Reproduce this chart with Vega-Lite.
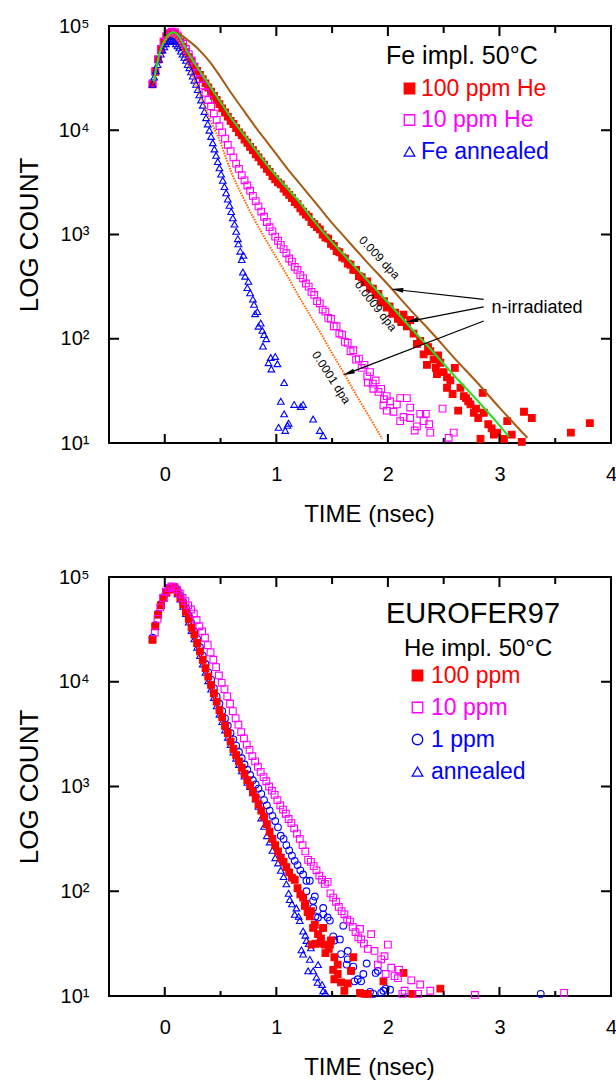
{
"$schema": "https://vega.github.io/schema/vega-lite/v6.json",
"padding": {"left": 15, "top": 15, "right": 0, "bottom": 0},
"background": "white",
"config": {
  "font": "Liberation Sans",
  "view": {"stroke": "#000000", "strokeWidth": 2},
  "axis": {"grid": false, "domain": false, "ticks": false, "tickSize": 0, "labelFont": "Liberation Sans", "labelFontSize": 20, "labelColor": "#000000", "titleFont": "Liberation Sans", "titleFontWeight": "normal", "titleColor": "#000000", "labelFlush": false, "labelOverlap": false, "labelBound": false},
  "legend": {"labelFont": "Liberation Sans", "titleFont": "Liberation Sans", "titleFontWeight": "normal", "titleColor": "#000000", "padding": 0},
  "text": {"font": "Liberation Sans"}
},
"datasets": {
  "tkx": [{"p":0,"lo":1,"hi":5},{"p":1,"lo":1,"hi":5},{"p":2,"lo":1,"hi":5},{"p":3,"lo":1,"hi":5}],
  "tkm": [{"p":0.5,"lo":1,"hi":5},{"p":1.5,"lo":1,"hi":5},{"p":2.5,"lo":1,"hi":5},{"p":3.5,"lo":1,"hi":5}],
  "tky": [{"p":2,"l":-0.5,"r":4},{"p":3,"l":-0.5,"r":4},{"p":4,"l":-0.5,"r":4}],
  "p1": [
    {"g":"100 ppm He","t":-0.11,"v":4.44},{"g":"100 ppm He","t":-0.085,"v":4.56},{"g":"100 ppm He","t":-0.06,"v":4.68},{"g":"100 ppm He","t":-0.035,"v":4.77},{"g":"100 ppm He","t":-0.01,"v":4.85},{"g":"100 ppm He","t":0.015,"v":4.90},{"g":"100 ppm He","t":0.04,"v":4.93},{"g":"100 ppm He","t":0.065,"v":4.94},{"g":"100 ppm He","t":0.09,"v":4.93},{"g":"100 ppm He","t":0.115,"v":4.90},
    {"g":"100 ppm He","t":0.14,"v":4.85},{"g":"100 ppm He","t":0.165,"v":4.80},{"g":"100 ppm He","t":0.19,"v":4.75},{"g":"100 ppm He","t":0.215,"v":4.70},{"g":"100 ppm He","t":0.24,"v":4.66},{"g":"100 ppm He","t":0.265,"v":4.61},{"g":"100 ppm He","t":0.29,"v":4.57},{"g":"100 ppm He","t":0.315,"v":4.53},{"g":"100 ppm He","t":0.34,"v":4.49},{"g":"100 ppm He","t":0.365,"v":4.45},
    {"g":"100 ppm He","t":0.39,"v":4.41},{"g":"100 ppm He","t":0.415,"v":4.37},{"g":"100 ppm He","t":0.44,"v":4.33},{"g":"100 ppm He","t":0.465,"v":4.29},{"g":"100 ppm He","t":0.49,"v":4.25},{"g":"100 ppm He","t":0.515,"v":4.21},{"g":"100 ppm He","t":0.54,"v":4.17},{"g":"100 ppm He","t":0.565,"v":4.13},{"g":"100 ppm He","t":0.59,"v":4.09},{"g":"100 ppm He","t":0.615,"v":4.06},
    {"g":"100 ppm He","t":0.64,"v":4.02},{"g":"100 ppm He","t":0.665,"v":3.98},{"g":"100 ppm He","t":0.69,"v":3.95},{"g":"100 ppm He","t":0.715,"v":3.91},{"g":"100 ppm He","t":0.74,"v":3.88},{"g":"100 ppm He","t":0.765,"v":3.84},{"g":"100 ppm He","t":0.79,"v":3.81},{"g":"100 ppm He","t":0.815,"v":3.77},{"g":"100 ppm He","t":0.84,"v":3.74},{"g":"100 ppm He","t":0.865,"v":3.70},
    {"g":"100 ppm He","t":0.89,"v":3.67},{"g":"100 ppm He","t":0.915,"v":3.63},{"g":"100 ppm He","t":0.94,"v":3.60},{"g":"100 ppm He","t":0.965,"v":3.56},{"g":"100 ppm He","t":0.99,"v":3.53},{"g":"100 ppm He","t":1.015,"v":3.50},{"g":"100 ppm He","t":1.04,"v":3.48},{"g":"100 ppm He","t":1.065,"v":3.44},{"g":"100 ppm He","t":1.09,"v":3.41},{"g":"100 ppm He","t":1.115,"v":3.38},
    {"g":"100 ppm He","t":1.14,"v":3.35},{"g":"100 ppm He","t":1.165,"v":3.31},{"g":"100 ppm He","t":1.19,"v":3.29},{"g":"100 ppm He","t":1.215,"v":3.25},{"g":"100 ppm He","t":1.24,"v":3.22},{"g":"100 ppm He","t":1.265,"v":3.19},{"g":"100 ppm He","t":1.29,"v":3.17},{"g":"100 ppm He","t":1.315,"v":3.12},{"g":"100 ppm He","t":1.34,"v":3.10},{"g":"100 ppm He","t":1.365,"v":3.07},
    {"g":"100 ppm He","t":1.39,"v":3.05},{"g":"100 ppm He","t":1.415,"v":3.00},{"g":"100 ppm He","t":1.44,"v":2.97},{"g":"100 ppm He","t":1.465,"v":2.96},{"g":"100 ppm He","t":1.49,"v":2.91},{"g":"100 ppm He","t":1.515,"v":2.89},{"g":"100 ppm He","t":1.54,"v":2.84},{"g":"100 ppm He","t":1.565,"v":2.83},{"g":"100 ppm He","t":1.59,"v":2.78},{"g":"100 ppm He","t":1.615,"v":2.77},
    {"g":"100 ppm He","t":1.64,"v":2.72},{"g":"100 ppm He","t":1.665,"v":2.71},{"g":"100 ppm He","t":1.69,"v":2.66},{"g":"100 ppm He","t":1.715,"v":2.66},{"g":"100 ppm He","t":1.74,"v":2.60},{"g":"100 ppm He","t":1.765,"v":2.59},{"g":"100 ppm He","t":1.79,"v":2.54},{"g":"100 ppm He","t":1.815,"v":2.55},{"g":"100 ppm He","t":1.84,"v":2.48},{"g":"100 ppm He","t":1.865,"v":2.48},
    {"g":"100 ppm He","t":1.89,"v":2.42},{"g":"100 ppm He","t":1.915,"v":2.43},{"g":"100 ppm He","t":1.94,"v":2.35},{"g":"100 ppm He","t":1.965,"v":2.36},{"g":"100 ppm He","t":1.99,"v":2.30},{"g":"100 ppm He","t":2.015,"v":2.31},{"g":"100 ppm He","t":2.04,"v":2.24},{"g":"100 ppm He","t":2.065,"v":2.25},{"g":"100 ppm He","t":2.09,"v":2.19},
    {"g":"100 ppm He","t":2.12,"v":2.16},{"g":"100 ppm He","t":2.14,"v":2.23},{"g":"100 ppm He","t":2.17,"v":2.12},{"g":"100 ppm He","t":2.20,"v":2.18},{"g":"100 ppm He","t":2.23,"v":2.05},{"g":"100 ppm He","t":2.26,"v":1.95},{"g":"100 ppm He","t":2.29,"v":1.98},{"g":"100 ppm He","t":2.32,"v":1.85},{"g":"100 ppm He","t":2.35,"v":1.75},{"g":"100 ppm He","t":2.36,"v":1.92},
    {"g":"100 ppm He","t":2.38,"v":1.88},{"g":"100 ppm He","t":2.41,"v":1.80},{"g":"100 ppm He","t":2.43,"v":1.72},{"g":"100 ppm He","t":2.44,"v":1.66},{"g":"100 ppm He","t":2.45,"v":1.84},{"g":"100 ppm He","t":2.47,"v":1.77},{"g":"100 ppm He","t":2.50,"v":1.68},{"g":"100 ppm He","t":2.53,"v":1.63},{"g":"100 ppm He","t":2.53,"v":1.53},{"g":"100 ppm He","t":2.56,"v":1.60},
    {"g":"100 ppm He","t":2.58,"v":1.47},{"g":"100 ppm He","t":2.60,"v":1.72},{"g":"100 ppm He","t":2.63,"v":1.31},{"g":"100 ppm He","t":2.65,"v":1.53},{"g":"100 ppm He","t":2.68,"v":1.45},{"g":"100 ppm He","t":2.70,"v":1.43},{"g":"100 ppm He","t":2.72,"v":1.40},{"g":"100 ppm He","t":2.74,"v":1.37},{"g":"100 ppm He","t":2.77,"v":1.29},{"g":"100 ppm He","t":2.79,"v":1.33},
    {"g":"100 ppm He","t":2.81,"v":1.24},{"g":"100 ppm He","t":2.83,"v":1.04},{"g":"100 ppm He","t":2.85,"v":1.48},{"g":"100 ppm He","t":2.86,"v":1.29},{"g":"100 ppm He","t":2.90,"v":1.18},{"g":"100 ppm He","t":2.93,"v":1.14},{"g":"100 ppm He","t":2.95,"v":1.08},{"g":"100 ppm He","t":2.98,"v":1.10},{"g":"100 ppm He","t":3.04,"v":1.04},{"g":"100 ppm He","t":3.07,"v":1.21},
    {"g":"100 ppm He","t":3.11,"v":1.08},{"g":"100 ppm He","t":3.20,"v":1.01},{"g":"100 ppm He","t":3.22,"v":1.30},{"g":"100 ppm He","t":3.29,"v":1.24},{"g":"100 ppm He","t":3.64,"v":1.10},{"g":"100 ppm He","t":3.81,"v":1.19},

    {"g":"10 ppm He","t":-0.11,"v":4.45},{"g":"10 ppm He","t":-0.085,"v":4.57},{"g":"10 ppm He","t":-0.06,"v":4.68},{"g":"10 ppm He","t":-0.035,"v":4.78},{"g":"10 ppm He","t":-0.01,"v":4.85},{"g":"10 ppm He","t":0.015,"v":4.90},{"g":"10 ppm He","t":0.04,"v":4.93},{"g":"10 ppm He","t":0.065,"v":4.945},{"g":"10 ppm He","t":0.09,"v":4.94},{"g":"10 ppm He","t":0.115,"v":4.91},
    {"g":"10 ppm He","t":0.14,"v":4.87},{"g":"10 ppm He","t":0.165,"v":4.83},{"g":"10 ppm He","t":0.19,"v":4.78},{"g":"10 ppm He","t":0.215,"v":4.73},{"g":"10 ppm He","t":0.24,"v":4.67},{"g":"10 ppm He","t":0.265,"v":4.61},{"g":"10 ppm He","t":0.29,"v":4.55},{"g":"10 ppm He","t":0.315,"v":4.49},{"g":"10 ppm He","t":0.34,"v":4.43},{"g":"10 ppm He","t":0.365,"v":4.36},
    {"g":"10 ppm He","t":0.39,"v":4.29},{"g":"10 ppm He","t":0.415,"v":4.23},{"g":"10 ppm He","t":0.44,"v":4.16},{"g":"10 ppm He","t":0.465,"v":4.10},{"g":"10 ppm He","t":0.49,"v":4.04},{"g":"10 ppm He","t":0.515,"v":3.98},{"g":"10 ppm He","t":0.54,"v":3.92},{"g":"10 ppm He","t":0.565,"v":3.86},{"g":"10 ppm He","t":0.59,"v":3.80},{"g":"10 ppm He","t":0.615,"v":3.74},
    {"g":"10 ppm He","t":0.64,"v":3.68},{"g":"10 ppm He","t":0.665,"v":3.63},{"g":"10 ppm He","t":0.69,"v":3.57},{"g":"10 ppm He","t":0.715,"v":3.52},{"g":"10 ppm He","t":0.74,"v":3.47},{"g":"10 ppm He","t":0.765,"v":3.42},{"g":"10 ppm He","t":0.79,"v":3.37},{"g":"10 ppm He","t":0.815,"v":3.32},{"g":"10 ppm He","t":0.84,"v":3.27},{"g":"10 ppm He","t":0.865,"v":3.22},
    {"g":"10 ppm He","t":0.89,"v":3.17},{"g":"10 ppm He","t":0.915,"v":3.12},{"g":"10 ppm He","t":0.94,"v":3.07},{"g":"10 ppm He","t":0.965,"v":3.03},{"g":"10 ppm He","t":0.99,"v":2.98},{"g":"10 ppm He","t":1.015,"v":2.94},{"g":"10 ppm He","t":1.04,"v":2.90},{"g":"10 ppm He","t":1.065,"v":2.86},{"g":"10 ppm He","t":1.09,"v":2.82},{"g":"10 ppm He","t":1.115,"v":2.77},
    {"g":"10 ppm He","t":1.14,"v":2.74},{"g":"10 ppm He","t":1.165,"v":2.69},{"g":"10 ppm He","t":1.19,"v":2.66},{"g":"10 ppm He","t":1.215,"v":2.61},{"g":"10 ppm He","t":1.24,"v":2.58},{"g":"10 ppm He","t":1.265,"v":2.53},{"g":"10 ppm He","t":1.29,"v":2.50},{"g":"10 ppm He","t":1.315,"v":2.45},{"g":"10 ppm He","t":1.34,"v":2.42},{"g":"10 ppm He","t":1.365,"v":2.36},
    {"g":"10 ppm He","t":1.39,"v":2.34},{"g":"10 ppm He","t":1.415,"v":2.28},{"g":"10 ppm He","t":1.44,"v":2.26},{"g":"10 ppm He","t":1.465,"v":2.20},{"g":"10 ppm He","t":1.49,"v":2.19},{"g":"10 ppm He","t":1.515,"v":2.12},{"g":"10 ppm He","t":1.54,"v":2.12},{"g":"10 ppm He","t":1.565,"v":2.05},{"g":"10 ppm He","t":1.59,"v":2.04},{"g":"10 ppm He","t":1.615,"v":1.97},
    {"g":"10 ppm He","t":1.64,"v":1.96},{"g":"10 ppm He","t":1.665,"v":1.88},{"g":"10 ppm He","t":1.69,"v":1.89},{"g":"10 ppm He","t":1.715,"v":1.80},{"g":"10 ppm He","t":1.74,"v":1.81},{"g":"10 ppm He","t":1.765,"v":1.72},{"g":"10 ppm He","t":1.79,"v":1.75},{"g":"10 ppm He","t":1.815,"v":1.64},{"g":"10 ppm He","t":1.84,"v":1.68},{"g":"10 ppm He","t":1.865,"v":1.57},
    {"g":"10 ppm He","t":1.89,"v":1.60},{"g":"10 ppm He","t":1.915,"v":1.49},{"g":"10 ppm He","t":1.94,"v":1.52},{"g":"10 ppm He","t":1.965,"v":1.42},{"g":"10 ppm He","t":1.99,"v":1.45},{"g":"10 ppm He","t":1.99,"v":1.31},{"g":"10 ppm He","t":2.02,"v":1.40},{"g":"10 ppm He","t":2.05,"v":1.30},{"g":"10 ppm He","t":2.08,"v":1.37},{"g":"10 ppm He","t":2.11,"v":1.21},
    {"g":"10 ppm He","t":2.11,"v":1.43},{"g":"10 ppm He","t":2.14,"v":1.25},{"g":"10 ppm He","t":2.17,"v":1.43},{"g":"10 ppm He","t":2.20,"v":1.24},{"g":"10 ppm He","t":2.20,"v":1.34},{"g":"10 ppm He","t":2.24,"v":1.12},{"g":"10 ppm He","t":2.26,"v":1.16},{"g":"10 ppm He","t":2.29,"v":1.28},{"g":"10 ppm He","t":2.32,"v":1.21},{"g":"10 ppm He","t":2.34,"v":1.28},
    {"g":"10 ppm He","t":2.37,"v":1.18},{"g":"10 ppm He","t":2.38,"v":1.10},{"g":"10 ppm He","t":2.49,"v":1.33},{"g":"10 ppm He","t":2.545,"v":1.05},{"g":"10 ppm He","t":2.59,"v":1.10},{"g":"10 ppm He","t":1.87,"v":1.52},{"g":"10 ppm He","t":1.82,"v":1.58},{"g":"10 ppm He","t":1.96,"v":1.36},

    {"g":"Fe annealed","t":-0.11,"v":4.44},{"g":"Fe annealed","t":-0.095,"v":4.51},{"g":"Fe annealed","t":-0.08,"v":4.57},{"g":"Fe annealed","t":-0.065,"v":4.63},{"g":"Fe annealed","t":-0.05,"v":4.68},{"g":"Fe annealed","t":-0.035,"v":4.73},{"g":"Fe annealed","t":-0.02,"v":4.77},{"g":"Fe annealed","t":-0.005,"v":4.80},{"g":"Fe annealed","t":0.01,"v":4.83},{"g":"Fe annealed","t":0.025,"v":4.85},
    {"g":"Fe annealed","t":0.04,"v":4.86},{"g":"Fe annealed","t":0.055,"v":4.865},{"g":"Fe annealed","t":0.07,"v":4.86},{"g":"Fe annealed","t":0.085,"v":4.85},{"g":"Fe annealed","t":0.10,"v":4.83},{"g":"Fe annealed","t":0.115,"v":4.81},{"g":"Fe annealed","t":0.13,"v":4.79},{"g":"Fe annealed","t":0.145,"v":4.76},{"g":"Fe annealed","t":0.16,"v":4.73},{"g":"Fe annealed","t":0.175,"v":4.70},
    {"g":"Fe annealed","t":0.19,"v":4.67},{"g":"Fe annealed","t":0.205,"v":4.63},{"g":"Fe annealed","t":0.22,"v":4.60},{"g":"Fe annealed","t":0.235,"v":4.56},{"g":"Fe annealed","t":0.25,"v":4.52},{"g":"Fe annealed","t":0.265,"v":4.48},{"g":"Fe annealed","t":0.28,"v":4.44},{"g":"Fe annealed","t":0.295,"v":4.39},{"g":"Fe annealed","t":0.31,"v":4.34},{"g":"Fe annealed","t":0.325,"v":4.29},
    {"g":"Fe annealed","t":0.34,"v":4.24},{"g":"Fe annealed","t":0.355,"v":4.18},{"g":"Fe annealed","t":0.37,"v":4.12},{"g":"Fe annealed","t":0.385,"v":4.06},{"g":"Fe annealed","t":0.40,"v":4.00},{"g":"Fe annealed","t":0.415,"v":3.94},{"g":"Fe annealed","t":0.43,"v":3.88},{"g":"Fe annealed","t":0.445,"v":3.82},{"g":"Fe annealed","t":0.46,"v":3.76},{"g":"Fe annealed","t":0.475,"v":3.70},
    {"g":"Fe annealed","t":0.49,"v":3.64},{"g":"Fe annealed","t":0.505,"v":3.58},{"g":"Fe annealed","t":0.52,"v":3.52},{"g":"Fe annealed","t":0.535,"v":3.46},{"g":"Fe annealed","t":0.55,"v":3.40},{"g":"Fe annealed","t":0.565,"v":3.34},{"g":"Fe annealed","t":0.58,"v":3.28},{"g":"Fe annealed","t":0.595,"v":3.22},{"g":"Fe annealed","t":0.61,"v":3.16},{"g":"Fe annealed","t":0.625,"v":3.10},
    {"g":"Fe annealed","t":0.64,"v":3.03},{"g":"Fe annealed","t":0.655,"v":2.96},{"g":"Fe annealed","t":0.66,"v":2.91},{"g":"Fe annealed","t":0.677,"v":2.84},{"g":"Fe annealed","t":0.69,"v":2.76},{"g":"Fe annealed","t":0.70,"v":2.64},{"g":"Fe annealed","t":0.705,"v":2.80},{"g":"Fe annealed","t":0.72,"v":2.60},{"g":"Fe annealed","t":0.74,"v":2.49},{"g":"Fe annealed","t":0.75,"v":2.55},
    {"g":"Fe annealed","t":0.765,"v":2.44},{"g":"Fe annealed","t":0.79,"v":2.38},{"g":"Fe annealed","t":0.80,"v":2.33},{"g":"Fe annealed","t":0.81,"v":2.24},{"g":"Fe annealed","t":0.83,"v":2.26},{"g":"Fe annealed","t":0.84,"v":2.12},{"g":"Fe annealed","t":0.86,"v":2.15},{"g":"Fe annealed","t":0.875,"v":2.08},{"g":"Fe annealed","t":0.88,"v":1.93},{"g":"Fe annealed","t":0.89,"v":2.04},
    {"g":"Fe annealed","t":0.91,"v":2.00},{"g":"Fe annealed","t":0.93,"v":1.77},{"g":"Fe annealed","t":0.95,"v":1.82},{"g":"Fe annealed","t":0.955,"v":1.71},{"g":"Fe annealed","t":0.99,"v":1.83},{"g":"Fe annealed","t":1.01,"v":1.76},{"g":"Fe annealed","t":1.07,"v":1.58},{"g":"Fe annealed","t":1.04,"v":1.40},{"g":"Fe annealed","t":1.16,"v":1.37},{"g":"Fe annealed","t":1.22,"v":1.35},
    {"g":"Fe annealed","t":1.24,"v":1.37},{"g":"Fe annealed","t":1.07,"v":1.28},{"g":"Fe annealed","t":1.02,"v":1.15},{"g":"Fe annealed","t":1.11,"v":1.19},{"g":"Fe annealed","t":1.08,"v":1.12},{"g":"Fe annealed","t":1.10,"v":1.17},{"g":"Fe annealed","t":1.33,"v":1.23},{"g":"Fe annealed","t":1.39,"v":1.12},{"g":"Fe annealed","t":1.42,"v":1.07}
  ],
  "l1": [
    {"c":"b","t":-0.1,"v":4.45},{"c":"b","t":-0.05,"v":4.72},{"c":"b","t":0.0,"v":4.87},{"c":"b","t":0.05,"v":4.93},{"c":"b","t":0.1,"v":4.93},{"c":"b","t":0.15,"v":4.91},{"c":"b","t":0.2,"v":4.87},{"c":"b","t":0.3,"v":4.78},{"c":"b","t":0.4,"v":4.66},{"c":"b","t":0.5,"v":4.51},{"c":"b","t":0.6,"v":4.35},{"c":"b","t":0.7,"v":4.20},{"c":"b","t":0.8,"v":4.05},{"c":"b","t":0.9,"v":3.91},{"c":"b","t":1.0,"v":3.77},{"c":"b","t":1.1,"v":3.63},{"c":"b","t":1.2,"v":3.50},{"c":"b","t":1.3,"v":3.37},{"c":"b","t":1.4,"v":3.24},{"c":"b","t":1.5,"v":3.11},{"c":"b","t":1.6,"v":2.99},{"c":"b","t":1.8,"v":2.75},{"c":"b","t":2.0,"v":2.52},{"c":"b","t":2.2,"v":2.28},{"c":"b","t":2.4,"v":2.05},{"c":"b","t":2.6,"v":1.81},{"c":"b","t":2.8,"v":1.58},{"c":"b","t":3.0,"v":1.34},{"c":"b","t":3.25,"v":1.05},
    {"c":"g","t":-0.1,"v":4.47},{"c":"g","t":-0.05,"v":4.73},{"c":"g","t":0.0,"v":4.86},{"c":"g","t":0.05,"v":4.93},{"c":"g","t":0.08,"v":4.94},{"c":"g","t":0.12,"v":4.91},{"c":"g","t":0.16,"v":4.84},{"c":"g","t":0.2,"v":4.76},{"c":"g","t":0.25,"v":4.67},{"c":"g","t":0.3,"v":4.59},{"c":"g","t":0.35,"v":4.51},{"c":"g","t":0.4,"v":4.43},{"c":"g","t":0.45,"v":4.35},{"c":"g","t":0.5,"v":4.27},{"c":"g","t":0.55,"v":4.19},{"c":"g","t":0.6,"v":4.11},{"c":"g","t":0.7,"v":3.97},{"c":"g","t":0.8,"v":3.83},{"c":"g","t":0.9,"v":3.69},{"c":"g","t":1.0,"v":3.56},{"c":"g","t":1.1,"v":3.44},{"c":"g","t":1.2,"v":3.32},{"c":"g","t":1.3,"v":3.18},{"c":"g","t":1.4,"v":3.05},{"c":"g","t":1.6,"v":2.81},{"c":"g","t":1.8,"v":2.58},{"c":"g","t":2.0,"v":2.35},{"c":"g","t":2.2,"v":2.11},{"c":"g","t":2.4,"v":1.88},{"c":"g","t":2.6,"v":1.64},{"c":"g","t":2.8,"v":1.41},{"c":"g","t":3.0,"v":1.17},{"c":"g","t":3.085,"v":1.06},
    {"c":"o","t":0.0,"v":4.84},{"c":"o","t":0.05,"v":4.91},{"c":"o","t":0.1,"v":4.89},{"c":"o","t":0.15,"v":4.79},{"c":"o","t":0.2,"v":4.66},{"c":"o","t":0.25,"v":4.52},{"c":"o","t":0.3,"v":4.38},{"c":"o","t":0.35,"v":4.25},{"c":"o","t":0.4,"v":4.12},{"c":"o","t":0.45,"v":4.00},{"c":"o","t":0.5,"v":3.88},{"c":"o","t":0.55,"v":3.73},{"c":"o","t":0.6,"v":3.59},{"c":"o","t":0.65,"v":3.47},{"c":"o","t":0.7,"v":3.36},{"c":"o","t":0.75,"v":3.25},{"c":"o","t":0.8,"v":3.15},{"c":"o","t":0.9,"v":2.96},{"c":"o","t":1.0,"v":2.78},{"c":"o","t":1.1,"v":2.60},{"c":"o","t":1.2,"v":2.41},{"c":"o","t":1.3,"v":2.23},{"c":"o","t":1.4,"v":2.05},{"c":"o","t":1.5,"v":1.86},{"c":"o","t":1.6,"v":1.68},{"c":"o","t":1.7,"v":1.49},{"c":"o","t":1.8,"v":1.31},{"c":"o","t":1.9,"v":1.13},{"c":"o","t":1.948,"v":1.04}
  ],
  "arr": [
    {"id":1,"x0":2.859,"y0":2.378,"x1":2.083,"y1":2.470},
    {"id":2,"x0":2.859,"y0":2.305,"x1":2.216,"y1":2.172},
    {"id":3,"x0":2.859,"y0":2.170,"x1":1.646,"y1":1.670}
  ],
  "dpa": [
    {"id":1,"t":1.924,"v":2.779,"txt":"0.009 dpa"},
    {"id":2,"t":1.892,"v":2.314,"txt":"0.0009 dpa"},
    {"id":3,"t":1.493,"v":1.628,"txt":"0.0001 dpa"}
  ],
  "note": [{"t":2.928,"v":2.295,"txt":"n-irradiated"}],
  "sub": [{"t":2.144,"v":4.246,"txt":"He impl. 50°C"}],
  "p2": [
    {"g":"annealed","t":-0.11,"v":4.41},{"g":"annealed","t":-0.085,"v":4.53},{"g":"annealed","t":-0.06,"v":4.64},{"g":"annealed","t":-0.035,"v":4.73},{"g":"annealed","t":-0.01,"v":4.80},{"g":"annealed","t":0.015,"v":4.85},{"g":"annealed","t":0.04,"v":4.88},{"g":"annealed","t":0.065,"v":4.895},{"g":"annealed","t":0.09,"v":4.88},{"g":"annealed","t":0.115,"v":4.84},
    {"g":"annealed","t":0.14,"v":4.79},{"g":"annealed","t":0.165,"v":4.72},{"g":"annealed","t":0.19,"v":4.65},{"g":"annealed","t":0.215,"v":4.57},{"g":"annealed","t":0.24,"v":4.49},{"g":"annealed","t":0.265,"v":4.41},{"g":"annealed","t":0.29,"v":4.33},{"g":"annealed","t":0.315,"v":4.25},{"g":"annealed","t":0.34,"v":4.17},{"g":"annealed","t":0.365,"v":4.09},
    {"g":"annealed","t":0.39,"v":4.01},{"g":"annealed","t":0.415,"v":3.93},{"g":"annealed","t":0.44,"v":3.85},{"g":"annealed","t":0.465,"v":3.77},{"g":"annealed","t":0.49,"v":3.69},{"g":"annealed","t":0.515,"v":3.62},{"g":"annealed","t":0.54,"v":3.54},{"g":"annealed","t":0.565,"v":3.47},{"g":"annealed","t":0.59,"v":3.40},{"g":"annealed","t":0.615,"v":3.33},
    {"g":"annealed","t":0.64,"v":3.27},{"g":"annealed","t":0.665,"v":3.21},{"g":"annealed","t":0.69,"v":3.15},{"g":"annealed","t":0.715,"v":3.10},{"g":"annealed","t":0.74,"v":3.04},{"g":"annealed","t":0.765,"v":3.00},{"g":"annealed","t":0.79,"v":2.94},{"g":"annealed","t":0.815,"v":2.88},{"g":"annealed","t":0.84,"v":2.81},{"g":"annealed","t":0.865,"v":2.70},
    {"g":"annealed","t":0.89,"v":2.62},{"g":"annealed","t":0.915,"v":2.53},{"g":"annealed","t":0.94,"v":2.47},{"g":"annealed","t":0.965,"v":2.39},{"g":"annealed","t":0.99,"v":2.32},{"g":"annealed","t":1.015,"v":2.27},{"g":"annealed","t":1.04,"v":2.20},{"g":"annealed","t":1.065,"v":2.14},{"g":"annealed","t":1.09,"v":2.07},{"g":"annealed","t":1.11,"v":1.98},
    {"g":"annealed","t":1.12,"v":1.92},{"g":"annealed","t":1.14,"v":1.88},{"g":"annealed","t":1.18,"v":1.84},{"g":"annealed","t":1.165,"v":1.78},{"g":"annealed","t":1.21,"v":1.72},{"g":"annealed","t":1.20,"v":1.76},{"g":"annealed","t":1.24,"v":1.62},{"g":"annealed","t":1.27,"v":1.53},{"g":"annealed","t":1.31,"v":1.46},{"g":"annealed","t":1.24,"v":1.40},
    {"g":"annealed","t":1.225,"v":1.44},{"g":"annealed","t":1.374,"v":1.30},{"g":"annealed","t":1.285,"v":1.24},{"g":"annealed","t":1.33,"v":1.24},{"g":"annealed","t":1.37,"v":1.13},{"g":"annealed","t":1.36,"v":1.18},{"g":"annealed","t":1.41,"v":1.11},{"g":"annealed","t":1.42,"v":1.05},{"g":"annealed","t":1.44,"v":1.03},{"g":"annealed","t":1.26,"v":1.58},{"g":"annealed","t":1.29,"v":1.50},{"g":"annealed","t":1.30,"v":1.35},

    {"g":"1 ppm","t":-0.11,"v":4.42},{"g":"1 ppm","t":-0.085,"v":4.54},{"g":"1 ppm","t":-0.06,"v":4.65},{"g":"1 ppm","t":-0.035,"v":4.74},{"g":"1 ppm","t":-0.01,"v":4.81},{"g":"1 ppm","t":0.015,"v":4.86},{"g":"1 ppm","t":0.04,"v":4.89},{"g":"1 ppm","t":0.065,"v":4.905},{"g":"1 ppm","t":0.09,"v":4.90},{"g":"1 ppm","t":0.115,"v":4.87},
    {"g":"1 ppm","t":0.14,"v":4.82},{"g":"1 ppm","t":0.165,"v":4.76},{"g":"1 ppm","t":0.19,"v":4.70},{"g":"1 ppm","t":0.215,"v":4.63},{"g":"1 ppm","t":0.24,"v":4.56},{"g":"1 ppm","t":0.265,"v":4.48},{"g":"1 ppm","t":0.29,"v":4.41},{"g":"1 ppm","t":0.315,"v":4.33},{"g":"1 ppm","t":0.34,"v":4.25},{"g":"1 ppm","t":0.365,"v":4.17},
    {"g":"1 ppm","t":0.39,"v":4.09},{"g":"1 ppm","t":0.415,"v":4.02},{"g":"1 ppm","t":0.44,"v":3.94},{"g":"1 ppm","t":0.465,"v":3.86},{"g":"1 ppm","t":0.49,"v":3.79},{"g":"1 ppm","t":0.515,"v":3.72},{"g":"1 ppm","t":0.54,"v":3.65},{"g":"1 ppm","t":0.565,"v":3.58},{"g":"1 ppm","t":0.59,"v":3.51},{"g":"1 ppm","t":0.615,"v":3.45},
    {"g":"1 ppm","t":0.64,"v":3.39},{"g":"1 ppm","t":0.665,"v":3.33},{"g":"1 ppm","t":0.69,"v":3.27},{"g":"1 ppm","t":0.715,"v":3.21},{"g":"1 ppm","t":0.74,"v":3.16},{"g":"1 ppm","t":0.765,"v":3.11},{"g":"1 ppm","t":0.79,"v":3.06},{"g":"1 ppm","t":0.815,"v":3.02},{"g":"1 ppm","t":0.84,"v":2.98},{"g":"1 ppm","t":0.865,"v":2.93},
    {"g":"1 ppm","t":0.89,"v":2.87},{"g":"1 ppm","t":0.915,"v":2.82},{"g":"1 ppm","t":0.94,"v":2.77},{"g":"1 ppm","t":0.965,"v":2.72},{"g":"1 ppm","t":0.99,"v":2.67},{"g":"1 ppm","t":1.015,"v":2.61},{"g":"1 ppm","t":1.04,"v":2.53},{"g":"1 ppm","t":1.065,"v":2.50},{"g":"1 ppm","t":1.09,"v":2.44},{"g":"1 ppm","t":1.115,"v":2.39},
    {"g":"1 ppm","t":1.14,"v":2.34},{"g":"1 ppm","t":1.165,"v":2.29},{"g":"1 ppm","t":1.19,"v":2.25},{"g":"1 ppm","t":1.215,"v":2.20},{"g":"1 ppm","t":1.24,"v":2.16},{"g":"1 ppm","t":1.27,"v":2.10},{"g":"1 ppm","t":1.30,"v":2.10},{"g":"1 ppm","t":1.27,"v":2.00},{"g":"1 ppm","t":1.33,"v":1.91},{"g":"1 ppm","t":1.345,"v":1.95},
    {"g":"1 ppm","t":1.33,"v":1.84},{"g":"1 ppm","t":1.35,"v":1.76},{"g":"1 ppm","t":1.42,"v":1.84},{"g":"1 ppm","t":1.374,"v":1.75},{"g":"1 ppm","t":1.42,"v":1.78},{"g":"1 ppm","t":1.46,"v":1.75},{"g":"1 ppm","t":1.42,"v":1.65},{"g":"1 ppm","t":1.48,"v":1.72},{"g":"1 ppm","t":1.51,"v":1.57},{"g":"1 ppm","t":1.52,"v":1.53},
    {"g":"1 ppm","t":1.57,"v":1.54},{"g":"1 ppm","t":1.60,"v":1.67},{"g":"1 ppm","t":1.58,"v":1.40},{"g":"1 ppm","t":1.64,"v":1.43},{"g":"1 ppm","t":1.64,"v":1.35},{"g":"1 ppm","t":1.63,"v":1.30},{"g":"1 ppm","t":1.67,"v":1.24},{"g":"1 ppm","t":1.69,"v":1.28},{"g":"1 ppm","t":1.70,"v":1.14},{"g":"1 ppm","t":1.73,"v":1.16},
    {"g":"1 ppm","t":1.76,"v":1.14},{"g":"1 ppm","t":1.81,"v":1.31},{"g":"1 ppm","t":1.78,"v":1.21},{"g":"1 ppm","t":1.91,"v":1.24},{"g":"1 ppm","t":1.89,"v":1.22},{"g":"1 ppm","t":1.87,"v":1.02},{"g":"1 ppm","t":1.84,"v":1.04},{"g":"1 ppm","t":1.94,"v":1.03},{"g":"1 ppm","t":1.96,"v":1.05},{"g":"1 ppm","t":2.02,"v":1.06},
    {"g":"1 ppm","t":1.98,"v":1.07},{"g":"1 ppm","t":3.37,"v":1.02},

    {"g":"100 ppm","t":-0.11,"v":4.40},{"g":"100 ppm","t":-0.085,"v":4.53},{"g":"100 ppm","t":-0.06,"v":4.64},{"g":"100 ppm","t":-0.035,"v":4.73},{"g":"100 ppm","t":-0.01,"v":4.80},{"g":"100 ppm","t":0.015,"v":4.85},{"g":"100 ppm","t":0.04,"v":4.88},{"g":"100 ppm","t":0.065,"v":4.90},{"g":"100 ppm","t":0.09,"v":4.89},{"g":"100 ppm","t":0.115,"v":4.85},
    {"g":"100 ppm","t":0.14,"v":4.80},{"g":"100 ppm","t":0.165,"v":4.74},{"g":"100 ppm","t":0.19,"v":4.67},{"g":"100 ppm","t":0.215,"v":4.60},{"g":"100 ppm","t":0.24,"v":4.52},{"g":"100 ppm","t":0.265,"v":4.45},{"g":"100 ppm","t":0.29,"v":4.37},{"g":"100 ppm","t":0.315,"v":4.29},{"g":"100 ppm","t":0.34,"v":4.21},{"g":"100 ppm","t":0.365,"v":4.13},
    {"g":"100 ppm","t":0.39,"v":4.05},{"g":"100 ppm","t":0.415,"v":3.97},{"g":"100 ppm","t":0.44,"v":3.89},{"g":"100 ppm","t":0.465,"v":3.81},{"g":"100 ppm","t":0.49,"v":3.73},{"g":"100 ppm","t":0.515,"v":3.66},{"g":"100 ppm","t":0.54,"v":3.58},{"g":"100 ppm","t":0.565,"v":3.51},{"g":"100 ppm","t":0.59,"v":3.43},{"g":"100 ppm","t":0.615,"v":3.36},
    {"g":"100 ppm","t":0.64,"v":3.30},{"g":"100 ppm","t":0.665,"v":3.24},{"g":"100 ppm","t":0.69,"v":3.18},{"g":"100 ppm","t":0.715,"v":3.12},{"g":"100 ppm","t":0.74,"v":3.06},{"g":"100 ppm","t":0.765,"v":3.01},{"g":"100 ppm","t":0.79,"v":2.95},{"g":"100 ppm","t":0.815,"v":2.89},{"g":"100 ppm","t":0.84,"v":2.83},{"g":"100 ppm","t":0.865,"v":2.77},
    {"g":"100 ppm","t":0.89,"v":2.71},{"g":"100 ppm","t":0.915,"v":2.64},{"g":"100 ppm","t":0.94,"v":2.57},{"g":"100 ppm","t":0.965,"v":2.50},{"g":"100 ppm","t":0.99,"v":2.44},{"g":"100 ppm","t":1.015,"v":2.38},{"g":"100 ppm","t":1.04,"v":2.32},{"g":"100 ppm","t":1.065,"v":2.28},{"g":"100 ppm","t":1.09,"v":2.23},{"g":"100 ppm","t":1.115,"v":2.18},
    {"g":"100 ppm","t":1.14,"v":2.13},{"g":"100 ppm","t":1.165,"v":2.11},{"g":"100 ppm","t":1.19,"v":2.03},{"g":"100 ppm","t":1.215,"v":1.97},{"g":"100 ppm","t":1.24,"v":1.94},{"g":"100 ppm","t":1.255,"v":1.86},{"g":"100 ppm","t":1.26,"v":1.88},{"g":"100 ppm","t":1.28,"v":1.80},{"g":"100 ppm","t":1.30,"v":1.76},{"g":"100 ppm","t":1.31,"v":1.81},
    {"g":"100 ppm","t":1.345,"v":1.68},{"g":"100 ppm","t":1.33,"v":1.65},{"g":"100 ppm","t":1.35,"v":1.50},{"g":"100 ppm","t":1.374,"v":1.59},{"g":"100 ppm","t":1.39,"v":1.50},{"g":"100 ppm","t":1.40,"v":1.55},{"g":"100 ppm","t":1.42,"v":1.65},{"g":"100 ppm","t":1.435,"v":1.49},{"g":"100 ppm","t":1.44,"v":1.41},{"g":"100 ppm","t":1.47,"v":1.45},
    {"g":"100 ppm","t":1.48,"v":1.49},{"g":"100 ppm","t":1.49,"v":1.53},{"g":"100 ppm","t":1.315,"v":1.49},{"g":"100 ppm","t":1.52,"v":1.37},{"g":"100 ppm","t":1.51,"v":1.25},{"g":"100 ppm","t":1.55,"v":1.30},{"g":"100 ppm","t":1.55,"v":1.21},{"g":"100 ppm","t":1.52,"v":1.16},{"g":"100 ppm","t":1.58,"v":1.13},{"g":"100 ppm","t":1.61,"v":1.05},
    {"g":"100 ppm","t":1.64,"v":1.12},{"g":"100 ppm","t":1.67,"v":1.24},{"g":"100 ppm","t":1.69,"v":1.37},{"g":"100 ppm","t":1.75,"v":1.03},{"g":"100 ppm","t":1.79,"v":1.02},{"g":"100 ppm","t":1.82,"v":1.02},{"g":"100 ppm","t":1.96,"v":1.14},{"g":"100 ppm","t":2.14,"v":1.22},{"g":"100 ppm","t":2.22,"v":1.02},{"g":"100 ppm","t":2.47,"v":1.07},

    {"g":"10 ppm","t":-0.09,"v":4.47},{"g":"10 ppm","t":-0.065,"v":4.60},{"g":"10 ppm","t":-0.04,"v":4.71},{"g":"10 ppm","t":-0.015,"v":4.80},{"g":"10 ppm","t":0.01,"v":4.86},{"g":"10 ppm","t":0.035,"v":4.895},{"g":"10 ppm","t":0.06,"v":4.91},{"g":"10 ppm","t":0.085,"v":4.905},{"g":"10 ppm","t":0.11,"v":4.88},{"g":"10 ppm","t":0.135,"v":4.84},
    {"g":"10 ppm","t":0.16,"v":4.80},{"g":"10 ppm","t":0.185,"v":4.77},{"g":"10 ppm","t":0.21,"v":4.73},{"g":"10 ppm","t":0.235,"v":4.69},{"g":"10 ppm","t":0.26,"v":4.65},{"g":"10 ppm","t":0.285,"v":4.59},{"g":"10 ppm","t":0.31,"v":4.53},{"g":"10 ppm","t":0.335,"v":4.48},{"g":"10 ppm","t":0.36,"v":4.42},{"g":"10 ppm","t":0.385,"v":4.35},
    {"g":"10 ppm","t":0.41,"v":4.28},{"g":"10 ppm","t":0.435,"v":4.21},{"g":"10 ppm","t":0.46,"v":4.14},{"g":"10 ppm","t":0.485,"v":4.06},{"g":"10 ppm","t":0.51,"v":3.99},{"g":"10 ppm","t":0.535,"v":3.93},{"g":"10 ppm","t":0.56,"v":3.86},{"g":"10 ppm","t":0.585,"v":3.79},{"g":"10 ppm","t":0.61,"v":3.72},{"g":"10 ppm","t":0.635,"v":3.65},
    {"g":"10 ppm","t":0.66,"v":3.59},{"g":"10 ppm","t":0.685,"v":3.52},{"g":"10 ppm","t":0.71,"v":3.46},{"g":"10 ppm","t":0.735,"v":3.40},{"g":"10 ppm","t":0.76,"v":3.35},{"g":"10 ppm","t":0.785,"v":3.29},{"g":"10 ppm","t":0.81,"v":3.24},{"g":"10 ppm","t":0.835,"v":3.19},{"g":"10 ppm","t":0.86,"v":3.14},{"g":"10 ppm","t":0.885,"v":3.09},
    {"g":"10 ppm","t":0.91,"v":3.05},{"g":"10 ppm","t":0.935,"v":3.00},{"g":"10 ppm","t":0.96,"v":2.96},{"g":"10 ppm","t":0.985,"v":2.92},{"g":"10 ppm","t":1.01,"v":2.87},{"g":"10 ppm","t":1.035,"v":2.82},{"g":"10 ppm","t":1.06,"v":2.78},{"g":"10 ppm","t":1.085,"v":2.74},{"g":"10 ppm","t":1.11,"v":2.69},{"g":"10 ppm","t":1.135,"v":2.65},
    {"g":"10 ppm","t":1.16,"v":2.60},{"g":"10 ppm","t":1.185,"v":2.55},{"g":"10 ppm","t":1.21,"v":2.50},{"g":"10 ppm","t":1.235,"v":2.44},{"g":"10 ppm","t":1.26,"v":2.38},{"g":"10 ppm","t":1.285,"v":2.30},{"g":"10 ppm","t":1.31,"v":2.28},{"g":"10 ppm","t":1.335,"v":2.24},{"g":"10 ppm","t":1.36,"v":2.20},{"g":"10 ppm","t":1.385,"v":2.15},
    {"g":"10 ppm","t":1.41,"v":2.11},{"g":"10 ppm","t":1.435,"v":2.07},{"g":"10 ppm","t":1.46,"v":2.09},{"g":"10 ppm","t":1.485,"v":1.98},{"g":"10 ppm","t":1.51,"v":1.94},{"g":"10 ppm","t":1.535,"v":1.90},{"g":"10 ppm","t":1.56,"v":1.85},{"g":"10 ppm","t":1.585,"v":1.81},{"g":"10 ppm","t":1.61,"v":1.78},{"g":"10 ppm","t":1.635,"v":1.73},
    {"g":"10 ppm","t":1.66,"v":1.71},{"g":"10 ppm","t":1.685,"v":1.66},{"g":"10 ppm","t":1.71,"v":1.61},{"g":"10 ppm","t":1.735,"v":1.56},{"g":"10 ppm","t":1.76,"v":1.54},{"g":"10 ppm","t":1.785,"v":1.50},{"g":"10 ppm","t":1.75,"v":1.64},{"g":"10 ppm","t":1.82,"v":1.45},{"g":"10 ppm","t":1.85,"v":1.59},{"g":"10 ppm","t":1.88,"v":1.43},
    {"g":"10 ppm","t":1.91,"v":1.30},{"g":"10 ppm","t":1.94,"v":1.35},{"g":"10 ppm","t":1.97,"v":1.38},{"g":"10 ppm","t":1.98,"v":1.21},{"g":"10 ppm","t":2.00,"v":1.49},{"g":"10 ppm","t":2.03,"v":1.27},{"g":"10 ppm","t":2.06,"v":1.19},{"g":"10 ppm","t":2.09,"v":1.17},{"g":"10 ppm","t":2.10,"v":1.25},{"g":"10 ppm","t":2.13,"v":1.02},
    {"g":"10 ppm","t":2.15,"v":1.05},{"g":"10 ppm","t":2.21,"v":1.15},{"g":"10 ppm","t":2.27,"v":1.02},{"g":"10 ppm","t":2.29,"v":1.11},{"g":"10 ppm","t":2.38,"v":1.05},{"g":"10 ppm","t":2.78,"v":1.01},{"g":"10 ppm","t":3.58,"v":1.03}
  ]
},
"vconcat": [
  {
    "width": 502, "height": 417,
    "layer": [
      {
        "data": {"name": "p1"},
        "mark": {"type": "point", "opacity": 1, "strokeWidth": 1.1, "size": 45},
        "encoding": {
          "x": {"field": "t", "type": "quantitative", "scale": {"domain": [-0.5, 4], "nice": false, "zero": false},
                "axis": {"values": [0,1,2,3,4], "format": "d", "labelPadding": 21, "title": "TIME (nsec)", "titleFontSize": 24, "titlePadding": 18, "titleX": 260}},
          "y": {"field": "v", "type": "quantitative", "scale": {"domain": [1, 5], "nice": false, "zero": false},
                "axis": {"values": [1,2,3,4,5], "labelExpr": "'10' + (datum.value == 1 ? '¹' : datum.value == 2 ? '²' : datum.value == 3 ? '³' : datum.value == 4 ? '⁴' : '⁵')", "labelPadding": 20, "title": "LOG COUNT", "titleFontSize": 26, "titlePadding": 16}},
          "color": {"field": "g", "type": "nominal", "scale": {"domain": ["100 ppm He", "10 ppm He", "Fe annealed"], "range": ["#ff0000", "#ff00ff", "#0000ff"]},
                    "legend": {"orient": "none", "legendX": 277, "legendY": 18, "title": "Fe impl. 50°C", "titleFontSize": 25, "titlePadding": 8, "labelFontSize": 23, "labelColor": {"expr": "datum.label == '100 ppm He' ? '#ff0000' : datum.label == '10 ppm He' ? '#ff00ff' : '#0000ff'"}, "symbolSize": 110, "symbolStrokeWidth": 1.3, "rowPadding": 7.5, "symbolOffset": 12, "labelOffset": 0}},
          "shape": {"field": "g", "type": "nominal", "scale": {"domain": ["100 ppm He", "10 ppm He", "Fe annealed"], "range": ["square", "square", "triangle-up"]}},
          "fill": {"field": "g", "type": "nominal", "scale": {"domain": ["100 ppm He", "10 ppm He", "Fe annealed"], "range": ["#ff0000", "transparent", "transparent"]}}
        }
      },
      {
        "data": {"name": "l1"},
        "transform": [{"filter": "datum.c == 'b'"}],
        "mark": {"type": "line", "color": "#a85a14", "strokeWidth": 2, "interpolate": "monotone"},
        "encoding": {"x": {"field": "t", "type": "quantitative", "axis": null}, "y": {"field": "v", "type": "quantitative", "axis": null}}
      },
      {
        "data": {"name": "l1"},
        "transform": [{"filter": "datum.c == 'g'"}],
        "mark": {"type": "line", "color": "#22e022", "strokeWidth": 2, "interpolate": "monotone"},
        "encoding": {"x": {"field": "t", "type": "quantitative", "axis": null}, "y": {"field": "v", "type": "quantitative", "axis": null}}
      },
      {
        "data": {"name": "l1"},
        "transform": [{"filter": "datum.c == 'o'"}],
        "mark": {"type": "line", "color": "#ff6600", "strokeWidth": 2, "strokeDash": [1.5, 1.2], "interpolate": "monotone"},
        "encoding": {"x": {"field": "t", "type": "quantitative", "axis": null}, "y": {"field": "v", "type": "quantitative", "axis": null}}
      },
      {
        "data": {"name": "arr"},
        "mark": {"type": "rule", "color": "#000000", "strokeWidth": 1.2},
        "encoding": {"x": {"field": "x0", "type": "quantitative", "axis": null}, "y": {"field": "y0", "type": "quantitative", "axis": null}, "x2": {"field": "x1"}, "y2": {"field": "y1"}}
      },
      {
        "data": {"name": "arr"},
        "mark": {"type": "point", "shape": "M0,-1L0.4,1L-0.4,1Z", "filled": true, "color": "#000000", "opacity": 1, "size": 150},
        "encoding": {"x": {"field": "x1", "type": "quantitative", "axis": null}, "y": {"field": "y1", "type": "quantitative", "axis": null},
                     "angle": {"field": "id", "type": "quantitative", "scale": {"domain": [1, 2, 3], "range": [276.2, 259.2, 248.9]}, "legend": null}}
      },
      {
        "data": {"name": "dpa"},
        "mark": {"type": "text", "fontSize": 12, "color": "#000000", "align": "center", "baseline": "middle"},
        "encoding": {
          "x": {"field": "t", "type": "quantitative", "axis": null},
          "y": {"field": "v", "type": "quantitative", "axis": null},
          "text": {"field": "txt"},
          "angle": {"field": "id", "type": "quantitative", "scale": {"domain": [1, 2, 3], "range": [47, 52, 57]}, "legend": null}
        }
      },
      {
        "data": {"name": "note"},
        "mark": {"type": "text", "fontSize": 18, "color": "#000000", "align": "left", "baseline": "middle"},
        "encoding": {"x": {"field": "t", "type": "quantitative", "axis": null}, "y": {"field": "v", "type": "quantitative", "axis": null}, "text": {"field": "txt"}}
      },
      {
        "data": {"name": "tkx"},
        "mark": {"type": "tick", "orient": "vertical", "size": 18, "thickness": 2, "color": "#000000", "opacity": 1, "clip": true},
        "encoding": {"x": {"field": "p", "type": "quantitative", "axis": null}, "y": {"field": "lo", "type": "quantitative", "axis": null}}
      },
      {
        "data": {"name": "tkm"},
        "mark": {"type": "tick", "orient": "vertical", "size": 10, "thickness": 2, "color": "#000000", "opacity": 1, "clip": true},
        "encoding": {"x": {"field": "p", "type": "quantitative", "axis": null}, "y": {"field": "lo", "type": "quantitative", "axis": null}}
      },
      {
        "data": {"name": "tkx"},
        "mark": {"type": "tick", "orient": "vertical", "size": 20, "thickness": 2, "color": "#000000", "opacity": 1, "clip": true},
        "encoding": {"x": {"field": "p", "type": "quantitative", "axis": null}, "y": {"field": "hi", "type": "quantitative", "axis": null}}
      },
      {
        "data": {"name": "tkm"},
        "mark": {"type": "tick", "orient": "vertical", "size": 14, "thickness": 2, "color": "#000000", "opacity": 1, "clip": true},
        "encoding": {"x": {"field": "p", "type": "quantitative", "axis": null}, "y": {"field": "hi", "type": "quantitative", "axis": null}}
      },
      {
        "data": {"name": "tky"},
        "mark": {"type": "tick", "orient": "horizontal", "size": 20, "thickness": 2, "color": "#000000", "opacity": 1, "clip": true},
        "encoding": {"y": {"field": "p", "type": "quantitative", "axis": null}, "x": {"field": "l", "type": "quantitative", "axis": null}}
      },
      {
        "data": {"name": "tky"},
        "mark": {"type": "tick", "orient": "horizontal", "size": 20, "thickness": 2, "color": "#000000", "opacity": 1, "clip": true},
        "encoding": {"y": {"field": "p", "type": "quantitative", "axis": null}, "x": {"field": "r", "type": "quantitative", "axis": null}}
      }
    ],
    "resolve": {"axis": {"x": "independent", "y": "independent"}, "scale": {"angle": "independent"}}
  },
  {
    "width": 502, "height": 419,
    "layer": [
      {
        "data": {"name": "p2"},
        "transform": [{"filter": "datum.g == 'annealed'"}],
        "mark": {"type": "point", "opacity": 1, "strokeWidth": 1.1, "size": 45},
        "encoding": {
          "x": {"field": "t", "type": "quantitative", "scale": {"domain": [-0.5, 4], "nice": false, "zero": false},
                "axis": {"values": [0,1,2,3,4], "format": "d", "labelPadding": 21, "title": "TIME (nsec)", "titleFontSize": 24, "titlePadding": 18, "titleX": 260}},
          "y": {"field": "v", "type": "quantitative", "scale": {"domain": [1, 5], "nice": false, "zero": false},
                "axis": {"values": [1,2,3,4,5], "labelExpr": "'10' + (datum.value == 1 ? '¹' : datum.value == 2 ? '²' : datum.value == 3 ? '³' : datum.value == 4 ? '⁴' : '⁵')", "labelPadding": 20, "title": "LOG COUNT", "titleFontSize": 26, "titlePadding": 16}},
          "color": {"field": "g", "type": "nominal", "scale": {"domain": ["100 ppm", "10 ppm", "1 ppm", "annealed"], "range": ["#ff0000", "#ff00ff", "#0000ff", "#0000ff"]},
                    "legend": {"orient": "none", "legendX": 277, "legendY": 23, "title": "EUROFER97", "titleFontSize": 29, "titlePadding": 35, "labelFontSize": 23, "labelColor": {"expr": "datum.label == '100 ppm' ? '#ff0000' : datum.label == '10 ppm' ? '#ff00ff' : '#0000ff'"}, "symbolSize": 110, "symbolStrokeWidth": 1.3, "rowPadding": 8, "symbolOffset": 20, "labelOffset": 2}},
          "shape": {"field": "g", "type": "nominal", "scale": {"domain": ["100 ppm", "10 ppm", "1 ppm", "annealed"], "range": ["square", "square", "circle", "triangle-up"]}},
          "fill": {"field": "g", "type": "nominal", "scale": {"domain": ["100 ppm", "10 ppm", "1 ppm", "annealed"], "range": ["#ff0000", "transparent", "transparent", "transparent"]}}
        }
      },
      {
        "data": {"name": "p2"},
        "transform": [{"filter": "datum.g == '1 ppm'"}],
        "mark": {"type": "point", "opacity": 1, "strokeWidth": 1.1, "size": 45},
        "encoding": {
          "x": {"field": "t", "type": "quantitative", "axis": null},
          "y": {"field": "v", "type": "quantitative", "axis": null},
          "color": {"field": "g", "type": "nominal"},
          "shape": {"field": "g", "type": "nominal"},
          "fill": {"field": "g", "type": "nominal"}
        }
      },
      {
        "data": {"name": "p2"},
        "transform": [{"filter": "datum.g == '100 ppm' || datum.g == '10 ppm'"}],
        "mark": {"type": "point", "opacity": 1, "strokeWidth": 1.1, "size": 45},
        "encoding": {
          "x": {"field": "t", "type": "quantitative", "axis": null},
          "y": {"field": "v", "type": "quantitative", "axis": null},
          "color": {"field": "g", "type": "nominal"},
          "shape": {"field": "g", "type": "nominal"},
          "fill": {"field": "g", "type": "nominal"}
        }
      },
      {
        "data": {"name": "sub"},
        "mark": {"type": "text", "fontSize": 24, "color": "#000000", "align": "left", "baseline": "alphabetic"},
        "encoding": {"x": {"field": "t", "type": "quantitative", "axis": null}, "y": {"field": "v", "type": "quantitative", "axis": null}, "text": {"field": "txt"}}
      },
      {
        "data": {"name": "tkx"},
        "mark": {"type": "tick", "orient": "vertical", "size": 18, "thickness": 2, "color": "#000000", "opacity": 1, "clip": true},
        "encoding": {"x": {"field": "p", "type": "quantitative", "axis": null}, "y": {"field": "lo", "type": "quantitative", "axis": null}}
      },
      {
        "data": {"name": "tkm"},
        "mark": {"type": "tick", "orient": "vertical", "size": 10, "thickness": 2, "color": "#000000", "opacity": 1, "clip": true},
        "encoding": {"x": {"field": "p", "type": "quantitative", "axis": null}, "y": {"field": "lo", "type": "quantitative", "axis": null}}
      },
      {
        "data": {"name": "tkx"},
        "mark": {"type": "tick", "orient": "vertical", "size": 20, "thickness": 2, "color": "#000000", "opacity": 1, "clip": true},
        "encoding": {"x": {"field": "p", "type": "quantitative", "axis": null}, "y": {"field": "hi", "type": "quantitative", "axis": null}}
      },
      {
        "data": {"name": "tkm"},
        "mark": {"type": "tick", "orient": "vertical", "size": 14, "thickness": 2, "color": "#000000", "opacity": 1, "clip": true},
        "encoding": {"x": {"field": "p", "type": "quantitative", "axis": null}, "y": {"field": "hi", "type": "quantitative", "axis": null}}
      },
      {
        "data": {"name": "tky"},
        "mark": {"type": "tick", "orient": "horizontal", "size": 20, "thickness": 2, "color": "#000000", "opacity": 1, "clip": true},
        "encoding": {"y": {"field": "p", "type": "quantitative", "axis": null}, "x": {"field": "l", "type": "quantitative", "axis": null}}
      },
      {
        "data": {"name": "tky"},
        "mark": {"type": "tick", "orient": "horizontal", "size": 20, "thickness": 2, "color": "#000000", "opacity": 1, "clip": true},
        "encoding": {"y": {"field": "p", "type": "quantitative", "axis": null}, "x": {"field": "r", "type": "quantitative", "axis": null}}
      }
    ],
    "resolve": {"axis": {"x": "independent", "y": "independent"}}
  }
],
"spacing": 134,
"bounds": "flush",
"resolve": {"scale": {"x": "independent", "y": "independent", "color": "independent", "shape": "independent", "fill": "independent", "angle": "independent"}, "legend": {"color": "independent", "shape": "independent", "fill": "independent"}}
}
